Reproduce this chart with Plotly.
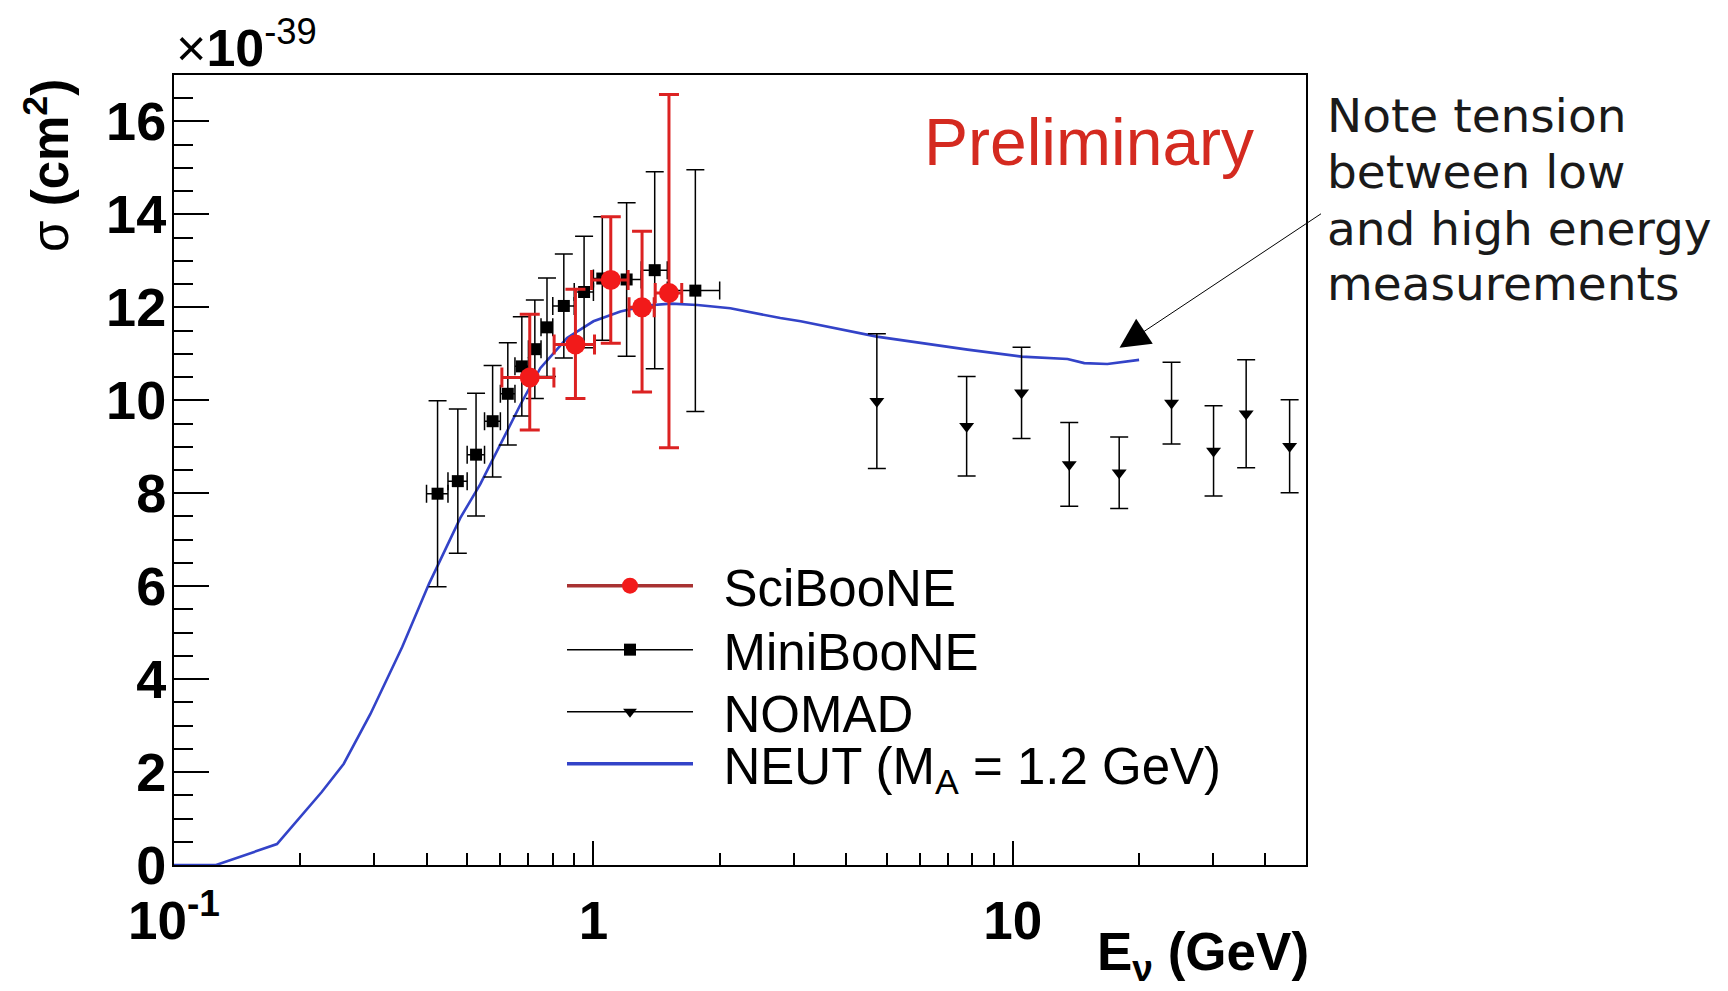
import math
import plotly.graph_objects as go

# ---------------- data (sigma in units of 1e-39 cm^2, E in GeV) ----------------
# MiniBooNE
mb_E = [0.425, 0.475, 0.525, 0.575, 0.625, 0.675, 0.725, 0.775, 0.85, 0.95, 1.05, 1.2, 1.4, 1.75]
mb_dE = [0.025, 0.025, 0.025, 0.025, 0.025, 0.025, 0.025, 0.025, 0.05, 0.05, 0.05, 0.1, 0.1, 0.25]
mb_sigma = [7.99, 8.26, 8.83, 9.55, 10.14, 10.73, 11.10, 11.57, 12.03, 12.33, 12.62, 12.60, 12.80, 12.36]
mb_err = [2.0, 1.55, 1.32, 1.2, 1.1, 1.07, 1.06, 1.06, 1.12, 1.2, 1.33, 1.65, 2.12, 2.6]

# SciBooNE
sb_E = [0.705, 0.906, 1.10, 1.306, 1.514]
sb_dE = [0.1, 0.1, 0.11, 0.09, 0.11]
sb_sigma = [10.49, 11.20, 12.59, 12.00, 12.31]
sb_err_up = [1.36, 1.19, 1.36, 1.64, 4.27]
sb_err_dn = [1.13, 1.16, 1.36, 1.82, 3.33]

# NOMAD
nm_E = [4.74, 7.76, 10.49, 13.63, 17.93, 23.9, 30.1, 36.0, 45.7]
nm_sigma = [9.98, 9.44, 10.16, 8.62, 8.44, 9.94, 8.91, 9.71, 9.01]
nm_err = [1.45, 1.07, 0.98, 0.90, 0.77, 0.88, 0.97, 1.16, 1.0]

# NEUT prediction (M_A = 1.2 GeV)
neut_E = [0.1, 0.126, 0.176, 0.225, 0.254, 0.294, 0.350, 0.4055, 0.4816, 0.537, 0.600, 0.670,
          0.747, 0.865, 1.0, 1.16, 1.34, 1.53, 1.77, 2.12, 2.79, 3.12, 4.74, 7.80, 10.49,
          13.5, 14.8, 16.8, 20.0]
neut_sigma = [0.0, 0.0, 0.45, 1.57, 2.18, 3.25, 4.69, 6.05, 7.47, 8.19, 9.05, 9.91,
              10.69, 11.34, 11.70, 11.91, 12.04, 12.08, 12.05, 11.98, 11.77, 11.70, 11.37, 11.09, 10.94,
              10.89, 10.80, 10.78, 10.87]

x_tick_vals = [0.1, 1, 10]
x_tick_text = ["10<sup>-1</sup>", "1", "10"]
y_tick_vals = [0, 2, 4, 6, 8, 10, 12, 14, 16]
legend_names = ["SciBooNE", "MiniBooNE", "NOMAD", "NEUT (M<sub>A</sub> = 1.2 GeV)"]

RED = "#f21a1a"
RED_BAR = "#dc2222"
RED_LEG = "#a83232"
BLUE = "#3343c8"
FONT = "Liberation Sans"

L, R, T, B = 174, 1306, 75, 865
PW, PH = R - L, B - T


def px(xp):
    return (xp - L) / PW


def py(yp):
    return (B - yp) / PH


fig = go.Figure()

# NEUT curve
fig.add_trace(go.Scatter(x=neut_E, y=neut_sigma, mode="lines", showlegend=False,
                         line=dict(color=BLUE, width=2.6), hoverinfo="skip"))

# MiniBooNE
fig.add_trace(go.Scatter(
    x=mb_E, y=mb_sigma, mode="markers", showlegend=False,
    marker=dict(symbol="square", size=12, color="black"),
    error_y=dict(type="data", array=mb_err, color="black", thickness=1.5, width=9),
    error_x=dict(type="data", array=mb_dE, color="black", thickness=1.5, width=9)))

# NOMAD
fig.add_trace(go.Scatter(
    x=nm_E, y=nm_sigma, mode="markers", showlegend=False,
    marker=dict(symbol="triangle-down", size=13, color="black"),
    error_y=dict(type="data", array=nm_err, color="black", thickness=1.5, width=9)))

# SciBooNE
fig.add_trace(go.Scatter(
    x=sb_E, y=sb_sigma, mode="markers", showlegend=False,
    marker=dict(symbol="circle", size=20, color=RED),
    error_y=dict(type="data", symmetric=False, array=sb_err_up, arrayminus=sb_err_dn,
                 color=RED_BAR, thickness=3, width=10),
    error_x=dict(type="data", array=sb_dE, color=RED_BAR, thickness=3, width=10)))

# legend entries (one legend box per entry so each row can be placed like the original)
GAP = "\u2002"
fig.add_trace(go.Scatter(x=[None], y=[None], mode="lines+markers", name=GAP + legend_names[0],
                         legend="legend",
                         line=dict(color=RED_LEG, width=3.5),
                         marker=dict(symbol="circle", size=20, color=RED)))
fig.add_trace(go.Scatter(x=[None], y=[None], mode="lines+markers", name=GAP + legend_names[1],
                         legend="legend2",
                         line=dict(color="black", width=1.5),
                         marker=dict(symbol="square", size=12, color="black")))
fig.add_trace(go.Scatter(x=[None], y=[None], mode="lines+markers", name=GAP + legend_names[2],
                         legend="legend3",
                         line=dict(color="black", width=1.5),
                         marker=dict(symbol="triangle-down", size=12, color="black")))
fig.add_trace(go.Scatter(x=[None], y=[None], mode="lines", name=GAP + legend_names[3],
                         legend="legend4",
                         line=dict(color=BLUE, width=3.5)))

minor_x = [m * 10 ** d for d in (-1, 0, 1) for m in range(2, 10) if m * 10 ** d <= 50]

fig.update_xaxes(
    type="log", range=[-1, math.log10(50)],
    tickmode="array", tickvals=x_tick_vals, ticktext=x_tick_text,
    ticks="inside", ticklen=24, tickwidth=1.5, tickcolor="black",
    minor=dict(tickmode="array", tickvals=minor_x, ticks="inside", ticklen=12,
               tickwidth=1.5, tickcolor="black", showgrid=False),
    showline=True, linewidth=2, linecolor="black", mirror=True,
    showgrid=False, zeroline=False,
    tickfont=dict(family=FONT, size=53, color="black", weight="bold"),
    ticklabelstandoff=8)

fig.update_yaxes(
    range=[0, 17], tickmode="array", tickvals=y_tick_vals,
    ticks="inside", ticklen=35, tickwidth=1.5, tickcolor="black",
    minor=dict(dtick=0.5, tick0=0, ticks="inside", ticklen=19, tickwidth=1.5,
               tickcolor="black", showgrid=False),
    showline=True, linewidth=2, linecolor="black", mirror=True,
    showgrid=False, zeroline=False,
    tickfont=dict(family=FONT, size=54, color="black", weight="bold"),
    ticklabelstandoff=-5)

annotations = [
    dict(text="\u03c3 <b>(cm<sup>2</sup>)</b>", xref="paper", yref="paper", x=px(47), y=py(166),
         textangle=-90, showarrow=False, font=dict(family=FONT, size=51, color="black"),
         xanchor="center", yanchor="middle"),
    dict(text="\u00d7<b>10</b><sup>-39</sup>", xref="paper", yref="paper", x=px(174), y=py(44),
         showarrow=False, font=dict(family=FONT, size=52, color="black"),
         xanchor="left", yanchor="middle"),
    dict(text="<b>E<sub>\u03bd</sub> (GeV)</b>", xref="paper", yref="paper", x=px(1310), y=py(990),
         showarrow=False, font=dict(family=FONT, size=53, color="black"),
         xanchor="right", yanchor="bottom", borderpad=0),
    dict(text="Preliminary", xref="paper", yref="paper", x=px(1089), y=py(142),
         showarrow=False, font=dict(family=FONT, size=66, color="#d42a20"),
         xanchor="center", yanchor="middle"),
    dict(text="", xref="x", yref="y", x=math.log10(17.96), y=11.13, ax=203, ay=-135,
         axref="pixel", ayref="pixel", showarrow=True, arrowhead=2, arrowsize=6,
         arrowwidth=1, arrowcolor="black"),
]
note_lines = ["Note tension", "between low", "and high energy", "measurements"]
note_y = [115, 171, 228, 283]
for txt, yy in zip(note_lines, note_y):
    annotations.append(dict(text=txt, xref="paper", yref="paper", x=px(1325), y=py(yy),
                            showarrow=False, xanchor="left", yanchor="middle",
                            font=dict(family="DejaVu Sans", size=47, color="#1a1a1a")))

leg_common = dict(xanchor="left", yanchor="middle",
                  font=dict(family=FONT, size=51, color="black"),
                  itemwidth=126, bgcolor="rgba(0,0,0,0)", borderwidth=0)
leg_y = [586, 650, 712, 764]

fig.update_layout(
    width=1728, height=991,
    margin=dict(l=L, r=1728 - R, t=T, b=991 - B, pad=0),
    paper_bgcolor="white", plot_bgcolor="white",
    annotations=annotations,
    legend=dict(x=px(562), y=py(leg_y[0]), **leg_common),
    legend2=dict(x=px(562), y=py(leg_y[1]), **leg_common),
    legend3=dict(x=px(562), y=py(leg_y[2]), **leg_common),
    legend4=dict(x=px(562), y=py(leg_y[3]), **leg_common),
)

fig.write_html("out.html", config={"displayModeBar": False},
               post_script="document.body.style.margin='0';document.body.style.overflow='hidden';")
